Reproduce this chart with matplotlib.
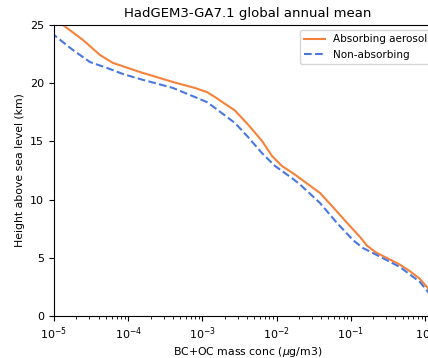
import matplotlib
matplotlib.use('Agg')
import matplotlib.pyplot as plt

# heights (km) and BC+OC mass conc (ug/m3)
absorbing_height = [25.0, 23.71, 22.42, 21.74, 20.96, 20.10, 19.59, 19.24, 18.81, 17.65, 16.45, 15.05,
                    13.75, 12.89, 12.15, 11.51, 10.57, 9.36, 7.73, 6.75, 6.05, 5.45, 4.98, 4.45, 3.85, 3.2, 2.5, 1.5]
absorbing_conc = [1.32e-5, 2.46e-5, 4.17e-5, 6.24e-5, 1.44e-4, 4.02e-4, 7.94e-4, 1.15e-3, 1.48e-3, 2.75e-3, 4.12e-3, 6.35e-3,
                  8.67e-3, 0.0118, 0.0177, 0.0242, 0.0385, 0.0575, 0.0975, 0.135, 0.165, 0.22, 0.308, 0.45, 0.628, 0.85, 1.06, 1.4]

nonabs_height = [25.0, 24.14, 22.85, 21.82, 21.31, 20.79, 20.36, 19.59, 18.81, 18.38, 17.87, 16.58, 15.38, 14.00,
                 12.89, 11.85, 11.3, 9.71, 7.99, 6.53, 5.85, 5.41, 4.21, 2.92, 2.06, 1.3]
nonabs_conc = [7.1e-6, 1.0e-5, 1.80e-5, 3.05e-5, 5.18e-5, 8.51e-5, 1.44e-4, 4.02e-4, 7.94e-4, 1.15e-3, 1.48e-3, 2.75e-3, 4.12e-3, 6.35e-3,
               9.51e-3, 0.0161, 0.0207, 0.0385, 0.0652, 0.107, 0.145, 0.199, 0.460, 0.857, 1.10, 1.4]

fig = plt.figure(figsize=(4.28, 3.58), dpi=100)
# axes runs off the right edge like in the reference
ax = fig.add_axes([54/428, 42/358, 388/428, 291/358])

ax.plot(absorbing_conc, absorbing_height, color='#f5823a', lw=1.5, label='Absorbing aerosols')
ax.plot(nonabs_conc, nonabs_height, color='#4a78e0', lw=1.5, ls='--', label='Non-absorbing')

ax.set_xscale('log')
ax.set_xlim(1e-5, 10**0.23)
ax.set_ylim(0, 25)
ax.set_yticks([0, 5, 10, 15, 20, 25])

ax.set_title('HadGEM3-GA7.1 global annual mean', fontsize=9.5)
ax.set_xlabel('BC+OC mass conc ($\\mu$g/m3)', fontsize=7.8, labelpad=2)
ax.set_ylabel('Height above sea level (km)', fontsize=7.8)
ax.tick_params(labelsize=8)
ax.legend(loc='upper right', fontsize=7.5)

fig.savefig('out.png', dpi=100)
